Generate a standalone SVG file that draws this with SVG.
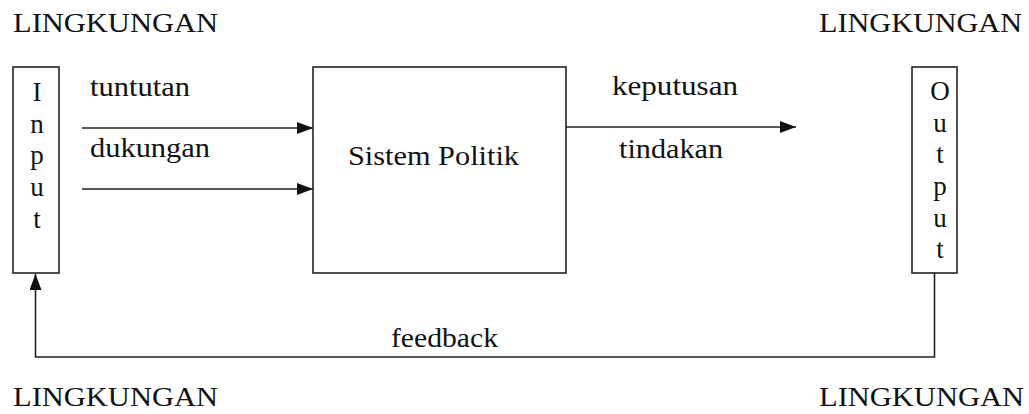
<svg xmlns="http://www.w3.org/2000/svg" width="1029" height="414" viewBox="0 0 1029 414">
<style>
text{font-family:"Liberation Serif","Times New Roman",serif;font-size:27px;fill:#111}
.box{fill:#fff;stroke:#222;stroke-width:1.6}
.ln{fill:none;stroke:#222;stroke-width:1.6}
.v{text-anchor:middle}
</style>
<defs>
<marker id="ah" viewBox="0 0 16 12" refX="16" refY="6" markerWidth="16" markerHeight="12" markerUnits="userSpaceOnUse" orient="auto">
<path d="M0,0 L16,6 L0,12 Z" fill="#111"/>
</marker>
</defs>
<rect width="1029" height="414" fill="#fff"/>
<g id="env">
<text x="13" y="32" textLength="205" lengthAdjust="spacingAndGlyphs">LINGKUNGAN</text>
<text x="819" y="32" textLength="203" lengthAdjust="spacingAndGlyphs">LINGKUNGAN</text>
<text x="13" y="406" textLength="205" lengthAdjust="spacingAndGlyphs">LINGKUNGAN</text>
<text x="819" y="406" textLength="205" lengthAdjust="spacingAndGlyphs">LINGKUNGAN</text>
</g>
<g id="connectors">
<line class="ln" x1="82" y1="128" x2="313" y2="128" marker-end="url(#ah)"/>
<line class="ln" x1="82" y1="189" x2="313" y2="189" marker-end="url(#ah)"/>
<line class="ln" x1="566" y1="127" x2="796" y2="127" marker-end="url(#ah)"/>
<path class="ln" d="M934.5,273 V357 H35.5 V274" marker-end="url(#ah)"/>
<text x="90" y="96" textLength="100" lengthAdjust="spacingAndGlyphs">tuntutan</text>
<text x="90" y="157" textLength="120" lengthAdjust="spacingAndGlyphs">dukungan</text>
<text x="612" y="95" textLength="126" lengthAdjust="spacingAndGlyphs">keputusan</text>
<text x="619" y="158" textLength="104" lengthAdjust="spacingAndGlyphs">tindakan</text>
<text x="391" y="347" textLength="107" lengthAdjust="spacingAndGlyphs">feedback</text>
</g>
<g id="input">
<rect class="box" x="13" y="67" width="46" height="206"/>
<text class="v" x="37" y="101">I</text>
<text class="v" x="37" y="133">n</text>
<text class="v" x="37" y="164">p</text>
<text class="v" x="37" y="196">u</text>
<text class="v" x="37" y="228">t</text>
</g>
<g id="sistem">
<rect class="box" x="313" y="67" width="253" height="206"/>
<text x="348" y="165" textLength="171" lengthAdjust="spacingAndGlyphs">Sistem Politik</text>
</g>
<g id="output">
<rect class="box" x="912" y="67" width="45" height="206"/>
<text class="v" x="940" y="100">O</text>
<text class="v" x="940" y="132">u</text>
<text class="v" x="940" y="163">t</text>
<text class="v" x="940" y="195">p</text>
<text class="v" x="940" y="227">u</text>
<text class="v" x="940" y="258">t</text>
</g>
</svg>
